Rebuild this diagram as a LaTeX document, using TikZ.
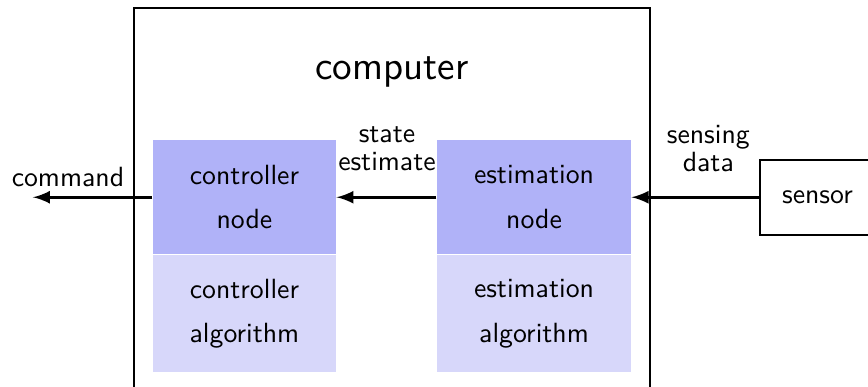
\documentclass[tikz,border=0pt]{standalone}
\usepackage{tikz}
\usetikzlibrary{positioning,arrows}
\definecolor{nodeblue}{RGB}{176,178,248}
\definecolor{algblue}{RGB}{215,215,250}
\begin{document}
\begin{tikzpicture}[font=\sffamily,
    rosnode/.style={fill=nodeblue,align=center,inner sep=0pt,minimum height=1.443cm},
    algbox/.style={fill=algblue,align=center,inner sep=0pt,minimum height=1.48cm},
    flow/.style={-latex,line width=1.1pt}]
  \useasboundingbox (0,0) rectangle (10.98,4.895);
  \clip (0,0) rectangle (10.98,4.895);
  \node[draw,semithick,minimum width=6.525cm,minimum height=5.3cm](computer)at(4.957,2.144){};
  \node[font=\sffamily\Large](comptext)at(4.96,3.985){computer};
  \node[rosnode,minimum width=2.315cm](ctrlnode)at(3.092,2.40){controller\\[4pt]node};
  \node[algbox,minimum width=2.315cm,below=0pt of ctrlnode](ctrlalg){controller\\[4pt]algorithm};
  \node[rosnode,minimum width=2.454cm](estnode)at(6.755,2.40){estimation\\[4pt]node};
  \node[algbox,minimum width=2.454cm,below=0pt of estnode](estalg){estimation\\[4pt]algorithm};
  \node[draw,semithick,minimum width=1.45cm,minimum height=0.95cm](sensor)at(10.34,2.40){sensor};
  \coordinate (cmdend) at (0.417,2.40);
  \draw[flow] (sensor) -- (estnode);
  \draw[flow] (estnode) -- (ctrlnode);
  \draw[flow] (ctrlnode) -- (cmdend);
  \node(cmdtext)at(0.86,2.66){command};
  \node[align=center](statetext)at(4.895,3.01){state\\[-2pt]estimate};
  \node[align=center](sensetext)at(8.96,3.02){sensing\\[-2pt]data};
\end{tikzpicture}
\end{document}
